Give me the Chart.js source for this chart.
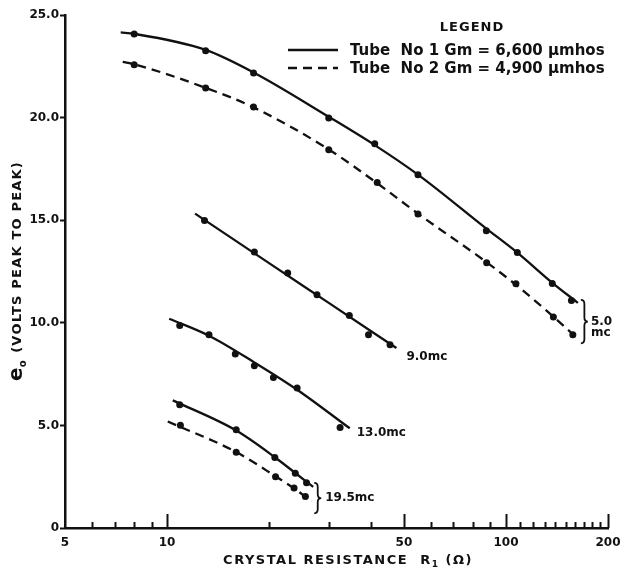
<!DOCTYPE html>
<html>
<head>
<meta charset="utf-8">
<script src="https://cdn.jsdelivr.net/npm/chart.js@4.4.1/dist/chart.umd.min.js"></script>
<style>
  html, body { margin: 0; padding: 0; background: #fff; }
  canvas { display: block; }
</style>
</head>
<body>
<canvas id="c" width="620" height="574"></canvas>
<script>
// Output voltage e0 (volts peak to peak) against crystal resistance R1 (ohms)

// ---- 5.0 mc, tube No 1 (Gm = 6,600 umhos) ----
const r5Tube1 = [8, 13, 18, 30, 41, 55, 87.5, 108, 137, 156];
const e5Tube1 = [24.07, 23.26, 22.17, 19.98, 18.73, 17.22, 14.49, 13.42, 11.92, 11.09];
const r5Tube1Curve = [7.3, 8, 13, 18, 30, 41, 55, 87.5, 108, 137, 163];
const e5Tube1Curve = [24.15, 24.08, 23.3, 22.2, 20.04, 18.66, 17.22, 14.59, 13.42, 11.95, 10.97];

// ---- 5.0 mc, tube No 2 (Gm = 4,900 umhos) ----
const r5Tube2 = [8, 13, 18, 30, 41.7, 55, 87.7, 107, 138, 157.5];
const e5Tube2 = [22.58, 21.44, 20.52, 18.43, 16.84, 15.30, 12.93, 11.90, 10.28, 9.42];
const r5Tube2Curve = [7.4, 8, 13, 18, 30, 41.7, 55, 87.7, 107, 138, 160];
const e5Tube2Curve = [22.72, 22.6, 21.45, 20.5, 18.45, 16.8, 15.32, 12.95, 11.85, 10.3, 9.34];

// ---- 9.0 mc, tube No 1 ----
const r9 = [12.9, 18.1, 22.7, 27.7, 34.5, 39.3, 45.5];
const e9 = [14.99, 13.45, 12.43, 11.37, 10.36, 9.42, 8.93];
const r9Curve = [12.1, 20, 30, 47.5];
const e9Curve = [15.32, 12.91, 10.97, 8.77];

// ---- 13.0 mc, tube No 1 ----
const r13 = [10.9, 13.3, 15.9, 18.1, 20.6, 24.2, 32.4];
const e13 = [9.87, 9.42, 8.48, 7.91, 7.34, 6.82, 4.90];
const r13Curve = [10.15, 13.3, 18.1, 24.2, 34.6];
const e13Curve = [10.2, 9.37, 8.07, 6.74, 4.86];

// ---- 19.5 mc, tube No 1 and tube No 2 ----
const r19Tube1 = [10.9, 16, 20.8, 23.9, 25.8];
const e19Tube1 = [6.01, 4.79, 3.43, 2.67, 2.21];
const r19Tube1Curve = [10.4, 16, 20.8, 23.9, 27];
const e19Tube1Curve = [6.22, 4.75, 3.45, 2.68, 2.0];
const r19Tube2 = [10.95, 16, 20.9, 23.7, 25.6];
const e19Tube2 = [5.01, 3.69, 2.5, 1.95, 1.53];
const r19Tube2Curve = [10.05, 16, 20.9, 23.7, 26.7];
const e19Tube2Curve = [5.19, 3.7, 2.52, 1.93, 1.3];

// ---- axis ticks ----
const xTickValues = [5, 6, 7, 8, 9, 10, 20, 30, 40, 50, 60, 70, 80, 90, 100,
                     110, 120, 130, 140, 150, 160, 170, 180, 190, 200];
const xMajorTicks = [10, 50, 100, 200];
const xTickLabels = [5, 10, 50, 100, 200];
const yTickLabels = ['0', '5.0', '10.0', '15.0', '20.0', '25.0'];

// ---- texts ----
const legendTitle = 'LEGEND';
const legendTube1 = 'Tube  No 1 Gm = 6,600 μmhos';
const legendTube2 = 'Tube  No 2 Gm = 4,900 μmhos';
const xTitle = ['CRYSTAL RESISTANCE  R', '1', ' (Ω)'];
const yTitle = ['e', 'o', ' (VOLTS PEAK TO PEAK)'];

const INK = '#111';
const FONT = '"DejaVu Sans", "Liberation Sans", sans-serif';
const DASH = [9, 6];

const pts = (xs, ys) => xs.map((x, i) => ({ x, y: ys[i] }));
const curve = (label, xs, ys, dash) => ({
  type: 'line', label, data: pts(xs, ys), showLine: true, pointRadius: 0,
  borderColor: INK, borderWidth: 2.3, borderDash: dash || [],
  cubicInterpolationMode: 'monotone', fill: false
});
const markers = (label, xs, ys) => ({
  type: 'scatter', label, data: pts(xs, ys), showLine: false,
  pointRadius: 3.5, pointHoverRadius: 3.5, pointBorderWidth: 0,
  pointBackgroundColor: INK, backgroundColor: INK, borderColor: INK
});

function drawBrace(ctx, x, yTop, yBot, w) {
  const mid = (yTop + yBot) / 2, r = 4, xm = x + w / 2;
  ctx.beginPath();
  ctx.moveTo(x, yTop);
  ctx.quadraticCurveTo(xm, yTop, xm, yTop + r);
  ctx.lineTo(xm, mid - r);
  ctx.quadraticCurveTo(xm, mid, x + w, mid);
  ctx.quadraticCurveTo(xm, mid, xm, mid + r);
  ctx.lineTo(xm, yBot - r);
  ctx.quadraticCurveTo(xm, yBot, x, yBot);
  ctx.stroke();
}

const decorations = {
  id: 'decorations',
  afterDraw(chart) {
    const { ctx, chartArea, scales } = chart;
    const sx = scales.x, sy = scales.y;
    const P = (x, y) => [sx.getPixelForValue(x), sy.getPixelForValue(y)];
    const last = a => a[a.length - 1];
    ctx.save();
    ctx.strokeStyle = INK;
    ctx.fillStyle = INK;
    ctx.lineCap = 'butt';

    // inward tick marks on the resistance axis
    ctx.lineWidth = 2;
    xTickValues.forEach(v => {
      if (v === 5) return;
      const px = Math.round(sx.getPixelForValue(v)) + 0.5;
      const len = xMajorTicks.includes(v) ? 14 : 6;
      ctx.beginPath();
      ctx.moveTo(px, chartArea.bottom);
      ctx.lineTo(px, chartArea.bottom - len);
      ctx.stroke();
    });

    // legend
    ctx.textBaseline = 'middle';
    ctx.textAlign = 'center';
    ctx.font = 'bold 13px ' + FONT;
    ctx.letterSpacing = '1px';
    ctx.fillText(legendTitle, 472, 28);
    ctx.letterSpacing = '0px';
    ctx.textAlign = 'left';
    ctx.font = '600 15px ' + FONT;
    ctx.lineWidth = 2.3;
    [[legendTube1, [], 50], [legendTube2, DASH, 68]].forEach(([t, d, y]) => {
      ctx.setLineDash(d);
      ctx.beginPath();
      ctx.moveTo(288, y);
      ctx.lineTo(338, y);
      ctx.stroke();
      ctx.setLineDash([]);
      ctx.fillText(t, 350, y + 1);
    });

    // curve labels
    ctx.font = 'bold 12px ' + FONT;
    let [ex, ey] = P(last(r9Curve), last(e9Curve));
    ctx.fillText('9.0mc', ex + 10, ey + 9);
    [ex, ey] = P(last(r13Curve), last(e13Curve));
    ctx.fillText('13.0mc', ex + 7, ey + 5);

    // brace for the 5.0 mc pair
    ctx.lineWidth = 1.8;
    let [ax, ay] = P(last(r5Tube1Curve), last(e5Tube1Curve));
    let [bx, by] = P(last(r5Tube2Curve), last(e5Tube2Curve));
    let bxPos = Math.max(ax, bx) + 3;
    drawBrace(ctx, bxPos, ay - 3, by + 7, 7);
    ctx.fillText('5.0', bxPos + 10, (ay + by) / 2 + 2);
    ctx.fillText('mc', bxPos + 10, (ay + by) / 2 + 13);

    // brace for the 19.5 mc pair
    [ax, ay] = P(last(r19Tube1Curve), last(e19Tube1Curve));
    [bx, by] = P(last(r19Tube2Curve), last(e19Tube2Curve));
    bxPos = Math.max(ax, bx) + 1;
    drawBrace(ctx, bxPos, ay - 4, by + 12, 7);
    ctx.fillText('19.5mc', bxPos + 11, (ay + by) / 2 + 4);

    // x axis title
    ctx.textAlign = 'left';
    ctx.letterSpacing = '1.5px';
    ctx.font = 'bold 13px ' + FONT;
    const w0 = ctx.measureText(xTitle[0]).width;
    ctx.font = 'bold 9px ' + FONT;
    const w1 = ctx.measureText(xTitle[1]).width;
    ctx.font = 'bold 13px ' + FONT;
    const w2 = ctx.measureText(xTitle[2]).width;
    const tx = 348 - (w0 + w1 + w2) / 2;
    const ty = 561;
    ctx.fillText(xTitle[0], tx, ty);
    ctx.font = 'bold 9px ' + FONT;
    ctx.fillText(xTitle[1], tx + w0, ty + 4);
    ctx.font = 'bold 13px ' + FONT;
    ctx.fillText(xTitle[2], tx + w0 + w1, ty);

    // y axis title (rotated)
    ctx.translate(18, 272);
    ctx.rotate(-Math.PI / 2);
    ctx.font = 'bold 20px ' + FONT;
    ctx.letterSpacing = '0px';
    const v0 = ctx.measureText(yTitle[0]).width;
    ctx.font = 'bold 10px ' + FONT;
    const v1 = ctx.measureText(yTitle[1]).width;
    ctx.font = 'bold 13px ' + FONT;
    ctx.letterSpacing = '1.2px';
    const v2 = ctx.measureText(yTitle[2]).width;
    const vx = -(v0 + v1 + v2) / 2;
    ctx.letterSpacing = '0px';
    ctx.font = 'bold 20px ' + FONT;
    ctx.fillText(yTitle[0], vx, -1);
    ctx.font = 'bold 10px ' + FONT;
    ctx.fillText(yTitle[1], vx + v0, 5);
    ctx.font = 'bold 13px ' + FONT;
    ctx.letterSpacing = '1.2px';
    ctx.fillText(yTitle[2], vx + v0 + v1 + 2, 0);
    ctx.restore();
  }
};

new Chart(document.getElementById('c'), {
  type: 'scatter',
  data: {
    datasets: [
      curve('5.0 mc tube 1', r5Tube1Curve, e5Tube1Curve),
      curve('5.0 mc tube 2', r5Tube2Curve, e5Tube2Curve, DASH),
      curve('9.0 mc', r9Curve, e9Curve),
      curve('13.0 mc', r13Curve, e13Curve),
      curve('19.5 mc tube 1', r19Tube1Curve, e19Tube1Curve),
      curve('19.5 mc tube 2', r19Tube2Curve, e19Tube2Curve, DASH),
      markers('5.0 mc tube 1 data', r5Tube1, e5Tube1),
      markers('5.0 mc tube 2 data', r5Tube2, e5Tube2),
      markers('9.0 mc data', r9, e9),
      markers('13.0 mc data', r13, e13),
      markers('19.5 mc tube 1 data', r19Tube1, e19Tube1),
      markers('19.5 mc tube 2 data', r19Tube2, e19Tube2)
    ]
  },
  options: {
    responsive: false,
    animation: false,
    devicePixelRatio: 1,
    layout: { padding: { top: 15, right: 12, left: 0, bottom: 0 } },
    plugins: { legend: { display: false }, tooltip: { enabled: false } },
    scales: {
      x: {
        type: 'logarithmic',
        min: 5, max: 200,
        border: { display: true, color: INK, width: 2.5 },
        grid: { display: true, drawOnChartArea: false, drawTicks: false },
        afterBuildTicks: s => { s.ticks = xTickValues.map(v => ({ value: v })); },
        afterFit: s => { s.height = 46; s.paddingLeft = 0; s.paddingRight = 0; },
        ticks: {
          autoSkip: false, maxRotation: 0, padding: 8, color: INK,
          font: { family: FONT, size: 12, weight: 'bold' },
          callback: v => xTickLabels.includes(v) ? String(v) : ''
        }
      },
      y: {
        type: 'linear',
        min: 0, max: 25,
        border: { display: true, color: INK, width: 2.5 },
        grid: { display: true, drawOnChartArea: false, drawTicks: true, tickLength: 5, tickWidth: 2, tickColor: INK },
        afterFit: s => { s.width = 65; s.paddingTop = 0; s.paddingBottom = 0; },
        ticks: {
          stepSize: 5, padding: 1, color: INK,
          font: { family: FONT, size: 12, weight: 'bold' },
          callback: v => yTickLabels[Math.round(v / 5)]
        }
      }
    }
  },
  plugins: [decorations]
});
</script>
</body>
</html>
